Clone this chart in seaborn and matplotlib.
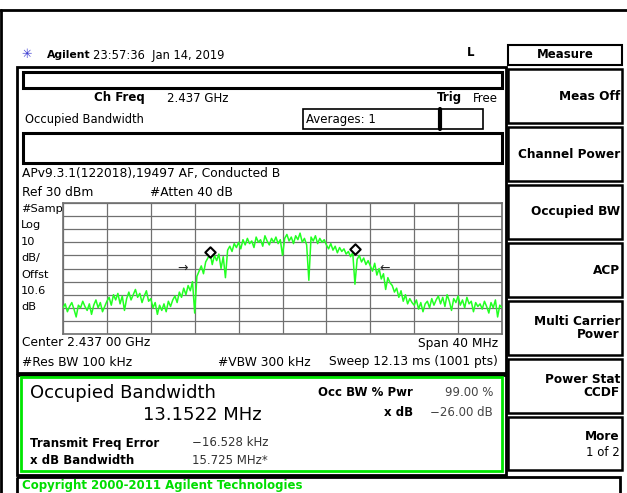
import numpy as np
import pandas as pd
import matplotlib
matplotlib.use("Agg")
import matplotlib.pyplot as plt
from matplotlib.patches import Rectangle
import seaborn as sns

# spectrum trace, offset from 2.437 GHz centre, 0.2 MHz steps
freq_mhz = np.linspace(-20, 20, 201)
level_dbm = [
    -50, -47, -53, -49, -46, -51, -57, -48, -50, -45,
    -49, -52, -47, -55, -48, -44, -50, -46, -53, -49,
    -45, -42, -48, -40, -44, -39, -47, -41, -52, -43,
    -38, -44, -40, -36, -42, -39, -46, -41, -37, -45,
    -43, -50, -46, -55, -48, -52, -47, -53, -45, -49,
    -44, -41, -46, -38, -42, -35, -40, -33, -37, -30,
    -54, -26, -22, -18, -24, -15, -12, -8, -17, -10,
    -14, -9, -20, -11, -27, -6, -3, -7, -1, -4,
    0, -5, 2, -2, 3, -1, 1, -4, 4, 0,
    2, -3, 5, 1, -2, 3, 0, 4, -1, 2,
    -10, 3, 6, 1, 4, -1, 5, 2, 7, 0,
    3, -2, -29, 4, 1, 5, -1, 3, 0, 2,
    -2, -5, -1, -6, -3, -8, -4, -7, -5, -9,
    -7, -11, -8, -32, -13, -10, -15, -12, -17, -14,
    -18, -22, -16, -25, -20, -28, -24, -36, -27, -31,
    -33, -38, -35, -42, -37, -45, -40, -47, -43, -46,
    -48, -44, -51, -46, -53, -47, -45, -50, -43, -48,
    -44, -41, -47, -42, -49, -40, -45, -52, -43, -46,
    -41, -48, -44, -50, -42, -47, -45, -53, -46, -49,
    -47, -51, -45, -49, -54, -46, -50, -44, -57, -48,
    -50,
]

# occupied bandwidth markers (diamonds) and x dB arrows
obw_freq = [-6.58, 6.58]
obw_level = [-7.4, -5.1]
xdb_freq = [-9.1, 9.3]
xdb_level = [-19.6, -19.6]

softkeys = ["Meas Off", "Channel Power", "Occupied BW", "ACP",
            "Multi Carrier\nPower", "Power Stat\nCCDF"]
left_labels = ["#Samp", "Log", "10", "dB/", "Offst", "10.6", "dB"]

sns.set_style("white")
plt.rcParams['font.family'] = ['DejaVu Sans']

fig = plt.figure(figsize=(6.27, 4.93), dpi=100)
cv = fig.add_axes([0, 0, 1, 1])
cv.set_xlim(0, 627)
cv.set_ylim(493, 0)
cv.axis('off')


def box(x0, y0, x1, y1, lw=1.5, color='black'):
    cv.add_patch(Rectangle((x0, y0), x1 - x0, y1 - y0, fill=False,
                           lw=lw, edgecolor=color))


def txt(x, y, s, size=8.5, bold=False, ha='left', color='black'):
    cv.text(x, y, s, fontsize=size, fontweight='bold' if bold else 'normal',
            ha=ha, va='center', color=color, linespacing=1.0)


# frame
cv.plot([0, 627], [10, 10], color='black', lw=2)
cv.plot([1, 1], [10, 493], color='black', lw=2)

# header
txt(27, 55, "✳", size=9, ha='center', color='#3b3bd0')
txt(47, 55, "Agilent", size=7.8, bold=True)
txt(93, 55, "23:57:36  Jan 14, 2019", size=8.3)
txt(471, 53, "L", bold=True, ha='center')

# left panel
box(17, 67, 506, 373, lw=2)
box(23, 72, 502, 88, lw=2.2)
txt(145, 98, "Ch Freq", bold=True, ha='right')
txt(167, 98, "2.437 GHz")
txt(462, 98, "Trig", bold=True, ha='right')
txt(498, 98, "Free", ha='right')
txt(25, 119, "Occupied Bandwidth", size=8.3)
box(303, 109, 440, 129, lw=1.2)
box(440, 109, 483, 129, lw=1.2)
cv.plot([440, 440], [109, 129], color='black', lw=3)
txt(306, 119, "Averages: 1")
box(23, 133, 502, 163, lw=2.2)
txt(22, 174, "APv9.3.1(122018),19497 AF, Conducted B", size=8.8)
txt(22, 193, "Ref 30 dBm", size=8.8)
txt(150, 193, "#Atten 40 dB", size=8.8)
for i, lab in enumerate(left_labels):
    txt(21, 209 + i * 16.4, lab, size=8.2)
txt(22, 343, "Center 2.437 00 GHz", size=8.8)
txt(498, 343, "Span 40 MHz", size=8.8, ha='right')
txt(22, 362, "#Res BW 100 kHz", size=8.8)
txt(218, 362, "#VBW 300 kHz", size=8.8)
txt(498, 362, "Sweep 12.13 ms (1001 pts)", size=8.8, ha='right')

# result panel
box(17, 375, 506, 475, lw=2)
box(21, 377, 502, 471, lw=2, color='#00e600')
txt(30, 393, "Occupied Bandwidth", size=13)
txt(143, 415, "13.1522 MHz", size=13)
txt(413, 393, "Occ BW % Pwr", bold=True, ha='right')
txt(493, 393, "99.00 %", ha='right', color='#444444')
txt(413, 412, "x dB", bold=True, ha='right')
txt(493, 412, "−26.00 dB", ha='right', color='#444444')
txt(30, 443, "Transmit Freq Error", bold=True)
txt(192, 443, "−16.528 kHz", color='#333333')
txt(30, 460, "x dB Bandwidth", bold=True)
txt(192, 460, "15.725 MHz*", color='#333333')

# copyright strip
box(17, 477, 620, 500, lw=2)
txt(22, 486, "Copyright 2000-2011 Agilent Technologies", bold=True, color='#00dd00')

# softkeys
box(508, 45, 622, 65)
txt(565, 55, "Measure", bold=True, ha='center')
tops = [69, 127, 185, 243, 301, 359]
for top, key in zip(tops, softkeys):
    box(508, top, 622, top + 54, lw=1.8)
    txt(620, top + 27, key, size=8.7, bold=True, ha='right')
box(508, 417, 622, 470, lw=1.8)
txt(620, 437, "More", size=8.7, bold=True, ha='right')
txt(620, 453, "1 of 2", ha='right')

# spectrum display
ax = fig.add_axes([63 / 627, 1 - 334 / 493, 439 / 627, 131 / 493])
trace = pd.DataFrame({"freq": freq_mhz, "level": level_dbm})
sns.lineplot(data=trace, x="freq", y="level", ax=ax, color='#22ff22',
             lw=1.1, estimator=None, zorder=3)
ax.scatter(obw_freq, obw_level, marker='D', s=28, facecolor='white',
           edgecolor='black', linewidth=1.5, zorder=5)
ax.text(xdb_freq[0], xdb_level[0], "→", ha='center', va='center', fontsize=9, zorder=5)
ax.text(xdb_freq[1], xdb_level[1], "←", ha='center', va='center', fontsize=9, zorder=5)
ax.set_xlim(-20, 20)
ax.set_ylim(-70, 30)
ax.set_xticks(np.linspace(-20, 20, 11))
ax.set_yticks(np.arange(-70, 31, 10))
ax.grid(True, color='#707070', lw=0.9)
ax.tick_params(length=0, labelbottom=False, labelleft=False)
ax.set_xlabel("")
ax.set_ylabel("")
for sp in ax.spines.values():
    sp.set_color('#707070')
    sp.set_linewidth(1.2)

fig.savefig("out.png", dpi=100)
